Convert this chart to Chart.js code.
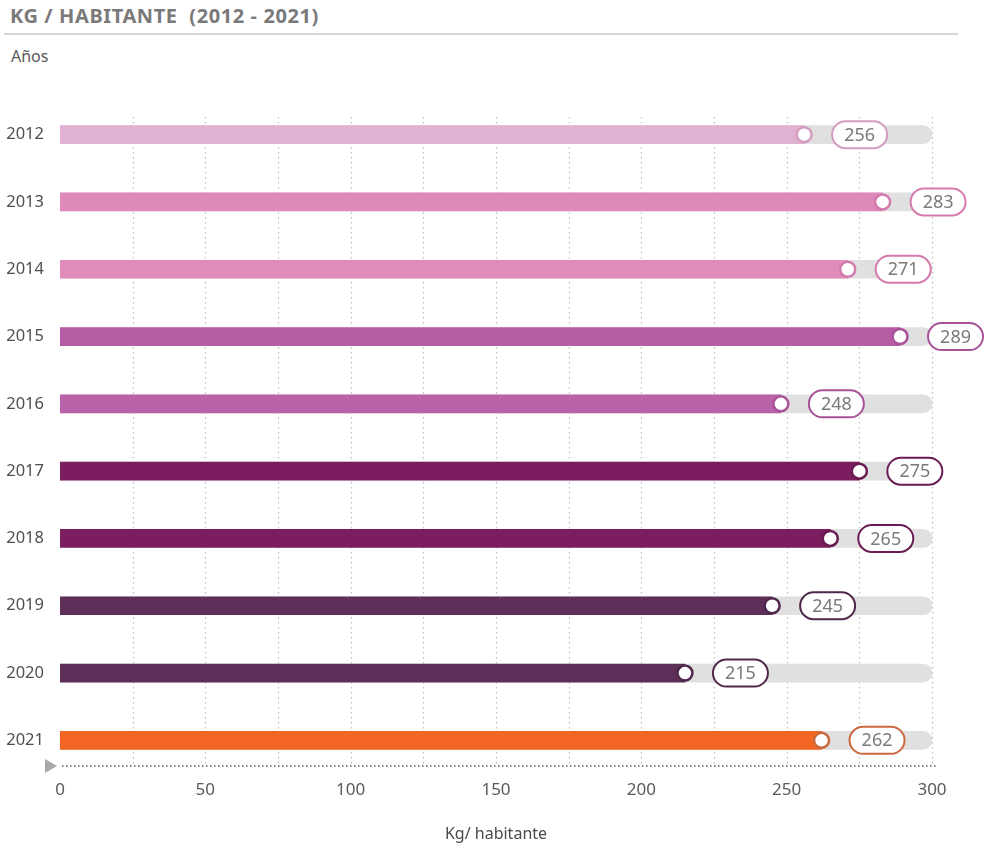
<!DOCTYPE html>
<html>
<head>
<meta charset="utf-8">
<script src="https://cdn.jsdelivr.net/npm/chart.js@4.4.1/dist/chart.umd.min.js"></script>
<style>
  html,body{margin:0;padding:0;background:#fff;}
  #wrap{position:relative;width:985px;height:847px;overflow:hidden;font-family:"Noto Sans",sans-serif;}
  #title{position:absolute;left:10px;top:2px;font-size:20px;font-weight:bold;color:#7a7a7a;letter-spacing:0.6px;white-space:pre;}
  #rule{position:absolute;left:4px;top:33px;width:954px;height:2px;background:#d6d6d6;}
  #sub{position:absolute;left:11px;top:45px;font-size:16px;color:#5a5a5a;}
  canvas{position:absolute;left:0;top:0;}
</style>
</head>
<body>
<div id="wrap">
  <div id="title">KG / HABITANTE  (2012 - 2021)</div>
  <div id="rule"></div>
  <div id="sub">Años</div>
  <canvas id="c" width="985" height="847"></canvas>
</div>
<script>
const years = ['2012','2013','2014','2015','2016','2017','2018','2019','2020','2021'];
const kgPerInhabitant = [256, 283, 271, 289, 248, 275, 265, 245, 215, 262];
const barColors = ['#e0b1d1','#e089bb','#e08bb9','#b65ca5','#b962a9','#7b1d5e','#7b1d5e','#5e2f58','#5e2f58','#f26522'];
const edgeColors = ['#d39cc0','#d57aad','#d57aad','#a9529a','#a9529a','#6a1b52','#6a1b52','#50284c','#50284c','#c9693d'];
const axisMax = 300;
const trackValues = years.map(() => axisMax);

const overlay = {
  id: 'overlay',
  beforeDatasetsDraw(chart) {
    const {ctx, chartArea, scales} = chart;
    const x = scales.x;
    ctx.save();
    ctx.strokeStyle = '#bdbdbd';
    ctx.lineWidth = 1.2;
    ctx.setLineDash([1.5, 3.5]);
    for (let v = 25; v <= axisMax; v += 25) {
      const px = Math.round(x.getPixelForValue(v)) + 0.5;
      ctx.beginPath();
      ctx.moveTo(px, chartArea.top + 16);
      ctx.lineTo(px, chartArea.bottom - 8);
      ctx.stroke();
    }
    ctx.strokeStyle = '#555';
    ctx.lineWidth = 1.5;
    ctx.setLineDash([1.5, 2.5]);
    const ay = chartArea.bottom - 8;
    ctx.beginPath();
    ctx.moveTo(x.getPixelForValue(0) + 2, ay);
    ctx.lineTo(x.getPixelForValue(axisMax) + 6, ay);
    ctx.stroke();
    ctx.setLineDash([]);
    ctx.fillStyle = '#a8a8a8';
    const x0 = x.getPixelForValue(0);
    ctx.beginPath();
    ctx.moveTo(x0 - 15, ay - 7);
    ctx.lineTo(x0 - 3, ay);
    ctx.lineTo(x0 - 15, ay + 7);
    ctx.closePath();
    ctx.fill();
    ctx.restore();
  },
  afterDatasetsDraw(chart) {
    const {ctx} = chart;
    const meta = chart.getDatasetMeta(0);
    ctx.save();
    meta.data.forEach((bar, i) => {
      const cx = bar.x, cy = bar.y;
      ctx.beginPath();
      ctx.arc(cx, cy, 7.5, 0, Math.PI * 2);
      ctx.fillStyle = '#fff';
      ctx.fill();
      ctx.lineWidth = 2.5;
      ctx.strokeStyle = edgeColors[i];
      ctx.stroke();
      const w = 55, h = 27, r = h / 2;
      const left = cx + 28, top = cy - h / 2;
      ctx.beginPath();
      ctx.moveTo(left + r, top);
      ctx.lineTo(left + w - r, top);
      ctx.arc(left + w - r, cy, r, -Math.PI / 2, Math.PI / 2);
      ctx.lineTo(left + r, top + h);
      ctx.arc(left + r, cy, r, Math.PI / 2, Math.PI * 1.5);
      ctx.closePath();
      ctx.fillStyle = '#fff';
      ctx.fill();
      ctx.lineWidth = 2;
      ctx.strokeStyle = edgeColors[i];
      ctx.stroke();
      ctx.fillStyle = '#7a7a7a';
      ctx.font = '18px "Noto Sans", sans-serif';
      ctx.textAlign = 'center';
      ctx.textBaseline = 'middle';
      ctx.fillText(String(kgPerInhabitant[i]), left + w / 2, cy + 1);
    });
    ctx.restore();
  }
};

new Chart(document.getElementById('c'), {
  type: 'bar',
  data: {
    labels: years,
    datasets: [
      {
        label: 'Kg/ habitante',
        data: kgPerInhabitant,
        backgroundColor: barColors,
        barThickness: 18,
        grouped: false,
        borderRadius: 0
      },
      {
        label: 'track',
        data: trackValues,
        backgroundColor: '#e0e0e0',
        barThickness: 18,
        grouped: false,
        borderRadius: 9,
        borderSkipped: 'start'
      }
    ]
  },
  options: {
    indexAxis: 'y',
    responsive: false,
    animation: false,
    devicePixelRatio: 1,
    layout: { padding: { top: 101, right: 53, left: 0, bottom: 0 } },
    plugins: { legend: { display: false }, tooltip: { enabled: false }, title: { display: false } },
    scales: {
      x: {
        min: 0,
        max: axisMax,
        grid: { display: false, drawTicks: false },
        border: { display: false },
        ticks: {
          stepSize: 25,
          padding: 6,
          color: '#5a5a5a',
          font: { family: 'Noto Sans', size: 17 },
          autoSkip: false,
          maxRotation: 0,
          callback: (v) => (v % 50 === 0 ? v : '')
        },
        title: {
          display: true,
          text: 'Kg/ habitante',
          color: '#4a4a4a',
          font: { family: 'Noto Sans', size: 16 },
          padding: { top: 15, bottom: 3 }
        },
        afterFit: (s) => { s.height = 73; }
      },
      y: {
        grid: { display: false, drawTicks: false },
        border: { display: false },
        ticks: {
          padding: 16,
          color: '#4f4f4f',
          font: { family: 'Noto Sans', size: 16.5 }
        },
        afterFit: (s) => { s.width = 60; }
      }
    }
  },
  plugins: [overlay]
});
</script>
</body>
</html>
